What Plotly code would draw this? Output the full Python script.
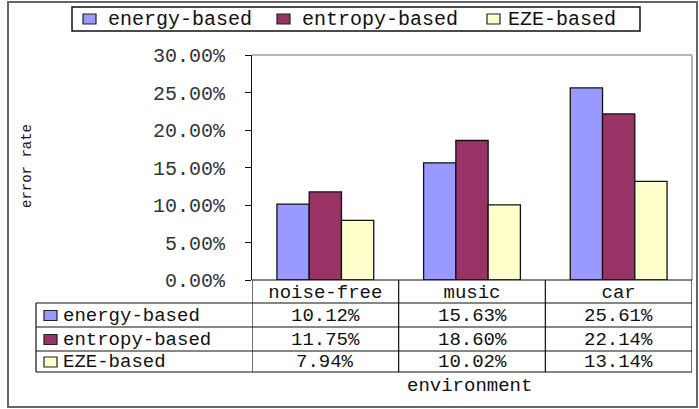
import plotly.graph_objects as go

# ---------------- data ----------------
categories = ["noise-free", "music", "car"]
series_names = ["energy-based", "entropy-based", "EZE-based"]
energy = [10.12, 15.63, 25.61]
entropy = [11.75, 18.60, 22.14]
eze = [7.94, 10.02, 13.14]
y_ticks = [0, 5, 10, 15, 20, 25, 30]
y_title = "error rate"
x_title = "environment"

series_values = [energy, entropy, eze]
colors = ["#9999FF", "#993366", "#FFFFCC"]

FONT = "Liberation Mono"
FS = 20
FT = 19  # table text
TXT = "#111111"

# ---------------- geometry helpers ----------------
W, H = 699, 409
L, R, T, B = 252, 7, 55, 129
PW = W - L - R
PH = H - T - B


def px(x):
    return (x - L) / PW


def py(y):
    return (H - B - y) / PH


fig = go.Figure()
for name, vals, col in zip(series_names, series_values, colors):
    fig.add_trace(go.Bar(
        x=categories, y=vals, name=name, showlegend=False,
        marker=dict(color=col, line=dict(color="#111111", width=1.3)),
    ))

shapes = []
LINE = dict(color="#111111", width=1.2)
# outer chart border
shapes.append(dict(type="rect", xref="paper", yref="paper",
                   x0=px(8), x1=px(697), y0=py(407), y1=py(2),
                   line=dict(color="#666666", width=2)))
# plot area border top/right
shapes.append(dict(type="line", xref="paper", yref="paper",
                   x0=0, x1=1, y0=1, y1=1, line=dict(color="#b4b4b4", width=2)))
shapes.append(dict(type="line", xref="paper", yref="paper",
                   x0=1, x1=1, y0=0, y1=1, line=dict(color="#b4b4b4", width=2)))
# table: header top line
shapes.append(dict(type="line", xref="paper", yref="paper",
                   x0=0, x1=1, y0=0, y1=0, line=LINE))
# table horizontal lines
for yy in [303, 327, 351, 372]:
    shapes.append(dict(type="line", xref="paper", yref="paper",
                       x0=px(36), x1=1, y0=py(yy), y1=py(yy), line=LINE))
# table left edge
shapes.append(dict(type="line", xref="paper", yref="paper",
                   x0=px(36), x1=px(36), y0=py(303), y1=py(372), line=LINE))
# category column boundaries
for k in range(len(categories) + 1):
    xb = k - 0.5
    shapes.append(dict(type="line", xref="x", yref="paper",
                       x0=xb, x1=xb, y0=0, y1=py(372), line=LINE))

annotations = []
row_centers = [315.5, 339.5, 362]
for r, (name, vals, col) in enumerate(zip(series_names, series_values, colors)):
    yc = row_centers[r]
    shapes.append(dict(type="rect", xref="paper", yref="paper",
                       x0=px(44), x1=px(57), y0=py(yc + 5), y1=py(yc - 5),
                       fillcolor=col, line=dict(color="#222222", width=1.2)))
    annotations.append(dict(x=px(62), y=py(yc), xref="paper", yref="paper",
                            text=name, showarrow=False, xanchor="left", yanchor="middle",
                            borderpad=0,
                            font=dict(family=FONT, size=FT, color=TXT)))
    for cat, v in zip(categories, vals):
        annotations.append(dict(x=cat, y=py(yc), xref="x", yref="paper",
                                text=f"{v:.2f}%", showarrow=False,
                                xanchor="center", yanchor="middle", borderpad=0,
                                font=dict(family=FONT, size=FT, color=TXT)))

# legend (drawn as a box with swatches)
shapes.append(dict(type="rect", xref="paper", yref="paper",
                   x0=px(72), x1=px(640), y0=py(31), y1=py(7),
                   fillcolor="white", line=dict(color="#111111", width=1.5)))
legend_swatch_x = [83, 277, 487]
legend_text_x = [106, 300, 506]
for name, col, sx, tx in zip(series_names, colors, legend_swatch_x, legend_text_x):
    shapes.append(dict(type="rect", xref="paper", yref="paper",
                       x0=px(sx), x1=px(sx + 13), y0=py(24), y1=py(14),
                       fillcolor=col, line=dict(color="#222222", width=1.2)))
    annotations.append(dict(x=px(tx), y=py(19), xref="paper", yref="paper",
                            text=name, showarrow=False, xanchor="left", yanchor="middle",
                            font=dict(family=FONT, size=FS, color=TXT)))

annotations.append(dict(x=px(469), y=py(386), xref="paper", yref="paper",
                        text=x_title, showarrow=False, xanchor="center", yanchor="middle",
                        font=dict(family=FONT, size=FT, color=TXT)))
annotations.append(dict(x=px(27), y=py(166), xref="paper", yref="paper",
                        text=y_title, showarrow=False, textangle=-90,
                        xanchor="center", yanchor="middle",
                        font=dict(family=FONT, size=14, color=TXT)))

fig.update_layout(
    width=W, height=H,
    margin=dict(l=L, r=R, t=T, b=B, autoexpand=False),
    paper_bgcolor="white", plot_bgcolor="white",
    barmode="group", bargap=0.34, bargroupgap=0,
    font=dict(family=FONT, size=FS, color=TXT),
    showlegend=False,
    xaxis=dict(range=[-0.5, 2.5], showgrid=False, zeroline=False, showline=False,
               ticks="", tickfont=dict(family=FONT, size=FT, color=TXT),
               ticklabelstandoff=-2, fixedrange=True),
    yaxis=dict(range=[0, 30], tickvals=y_ticks, ticktext=[f"{v:.2f}%" for v in y_ticks],
               showgrid=False, zeroline=False, showline=True, linecolor="#111111",
               linewidth=1.2, ticks="outside", ticklen=6, tickcolor="#111111",
               tickfont=dict(family=FONT, size=FS, color="#333333"),
               ticklabelstandoff=16, fixedrange=True),
    shapes=shapes, annotations=annotations,
)

fig.write_html("out.html", config={"displayModeBar": False},
               post_script="document.body.style.margin='0';document.body.style.padding='0';")
